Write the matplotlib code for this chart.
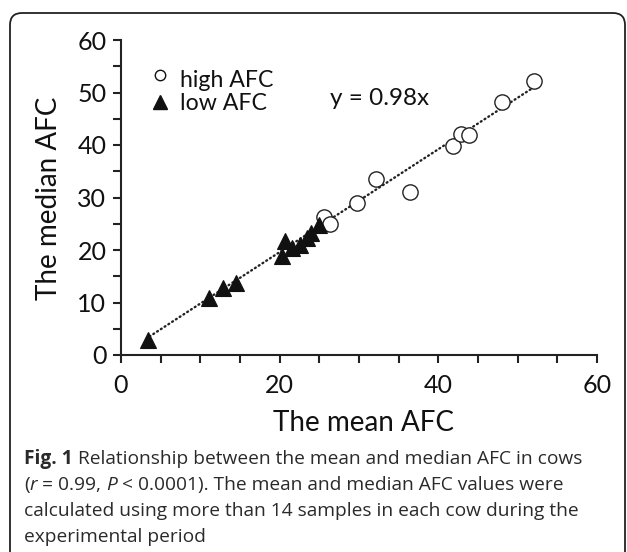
import matplotlib
matplotlib.use("Agg")
import matplotlib.pyplot as plt
from matplotlib.patches import FancyBboxPatch

plt.rcParams['font.family'] = ['Lato', 'DejaVu Sans']

# high AFC cows (open circles)
high_mean = [25.6, 26.3, 29.7, 32.1, 36.4, 41.9, 42.8, 43.9, 48.0, 52.0]
high_median = [26.2, 25.0, 29.0, 33.5, 31.0, 39.9, 42.1, 41.9, 48.1, 52.1]

# low AFC cows (filled triangles)
low_mean = [3.4, 11.1, 12.9, 14.5, 20.3, 20.7, 21.6, 22.6, 23.4, 24.0, 24.9]
low_median = [2.9, 10.8, 12.8, 13.8, 18.9, 21.8, 20.3, 21.0, 22.2, 23.2, 24.8]

slope = 0.98
fit_x = [3.6, 52.3]

caption = [
    [("Fig. 1", "bold"), (" Relationship between the mean and median AFC in cows", "normal")],
    [("(", "normal"), ("r", "italic"), (" = 0.99, ", "normal"), ("P", "italic"),
     (" < 0.0001). The mean and median AFC values were", "normal")],
    [("calculated using more than 14 samples in each cow during the", "normal")],
    [("experimental period", "normal")],
]

fig = plt.figure(figsize=(6.27, 5.52), dpi=100)
ax = fig.add_axes([121 / 627, 1 - 355 / 552, (597 - 121) / 627, (355 - 40) / 552])

ax.plot(fit_x, [slope * v for v in fit_x], color='#222222', lw=1.7,
        linestyle=(0, (0.4, 1.5)), dash_capstyle='round', zorder=1)
ax.plot(high_mean, high_median, 'o', ms=11, mfc='white', mec='#222222', mew=1.0,
        linestyle='none', zorder=2)
ax.plot(low_mean, low_median, '^', ms=11.5, mfc='#111111', mec='#111111', mew=0.8,
        linestyle='none', zorder=3)

ax.set_xlim(0, 60)
ax.set_ylim(0, 60)
ax.set_xticks(range(0, 61, 5))
ax.set_xticklabels([str(v) if v % 20 == 0 else '' for v in range(0, 61, 5)])
ax.set_yticks(range(0, 61, 5))
ax.set_yticklabels([str(v) if v % 10 == 0 else '' for v in range(0, 61, 5)])
ax.tick_params(direction='out', length=5.5, width=1.5, labelsize=18, color='#222222',
               labelcolor='#111111')
ax.tick_params(axis='x', pad=8)
ax.tick_params(axis='y', pad=5)
for s in ['top', 'right']:
    ax.spines[s].set_visible(False)
for s in ['left', 'bottom']:
    ax.spines[s].set_linewidth(1.5)
    ax.spines[s].set_color('#222222')
ax.set_xlabel('The mean AFC', fontsize=20, color='#111111', va='baseline')
ax.xaxis.set_label_coords(0.5105, -0.241)
ax.set_ylabel('The median AFC', fontsize=20, color='#111111')
ax.yaxis.set_label_coords(-0.124, 0.497)

# legend, drawn by hand to sit like the original
ax.plot([0.082], [0.889], 'o', ms=7.5, mfc='white', mec='#111111', mew=1.0,
        transform=ax.transAxes, clip_on=False)
ax.text(0.124, 0.852, 'high AFC', transform=ax.transAxes, fontsize=16.7,
        color='#111111', va='baseline')
ax.plot([0.082], [0.804], '^', ms=9.5, mfc='#111111', mec='#111111',
        transform=ax.transAxes, clip_on=False)
ax.text(0.124, 0.778, 'low AFC', transform=ax.transAxes, fontsize=16.7,
        color='#111111', va='baseline')
ax.text(0.439, 0.794, 'y = 0.98x', transform=ax.transAxes, fontsize=17.5,
        color='#111111', va='baseline')

# rounded frame around the figure, in pixel coordinates
frame = FancyBboxPatch((10, -20), 615, 552 - 13 + 20,
                       boxstyle='round,pad=0,rounding_size=12',
                       fc='none', ec='#222222', lw=1.3, transform=None)
fig.add_artist(frame)

renderer = fig.canvas.get_renderer()
base_y = 464
for i, line in enumerate(caption):
    x = 24
    y = 552 - (base_y + 26 * i)
    for txt, style in line:
        kw = dict(fontsize=13.8, color='#2a2a2a', va='baseline', ha='left', transform=None,
                  family=['Open Sans', 'DejaVu Sans'])
        if style == 'bold':
            kw['fontweight'] = 'bold'
        if style == 'italic':
            kw['fontstyle'] = 'italic'
        t = fig.text(x, y, txt, **kw)
        x = t.get_window_extent(renderer).x1

fig.savefig('out.png', dpi=100)
